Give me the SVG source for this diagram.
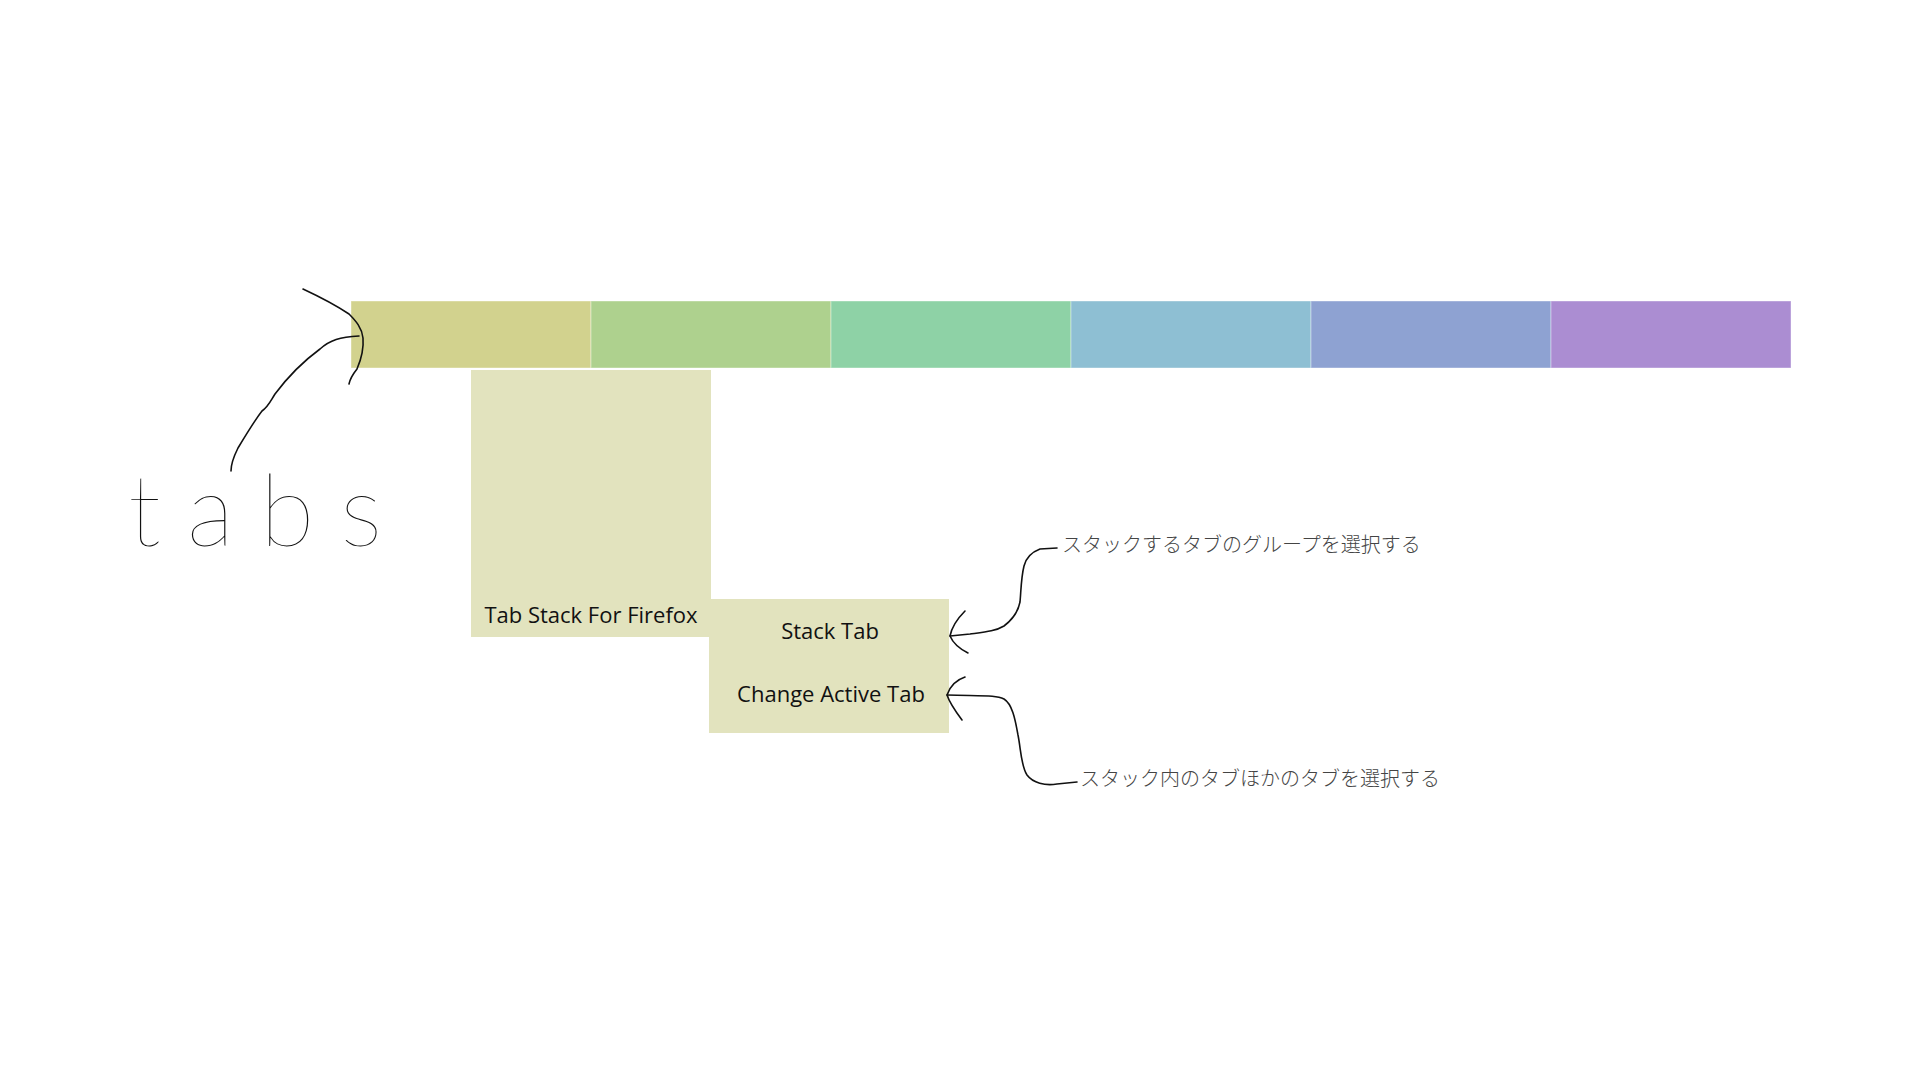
<svg xmlns="http://www.w3.org/2000/svg" width="1920" height="1080" viewBox="0 0 1920 1080">
  <style>
    .tab { stroke: rgba(255,255,255,0.4); stroke-width: 1; }
    .box { fill: #e2e3be; }
    .label { font-family: "Open Sans", "Liberation Sans", sans-serif; font-size: 22px; fill: #111; text-anchor: middle; }
    .note { font-family: "Noto Sans CJK JP", "Noto Sans", sans-serif; font-size: 20px; font-weight: 300; fill: #444; }
    .ink { fill: none; stroke: #111; stroke-width: 1.6; stroke-linecap: round; stroke-linejoin: round; }
  </style>
  <rect width="1920" height="1080" fill="#ffffff"/>

  <g id="tab-bar">
    <rect id="tab-1" class="tab" x="351" y="301" width="240" height="67" fill="#d2d28e"/>
    <rect id="tab-2" class="tab" x="591" y="301" width="240" height="67" fill="#aed18e"/>
    <rect id="tab-3" class="tab" x="831" y="301" width="240" height="67" fill="#8ed2a6"/>
    <rect id="tab-4" class="tab" x="1071" y="301" width="240" height="67" fill="#8ebfd3"/>
    <rect id="tab-5" class="tab" x="1311" y="301" width="240" height="67" fill="#8ea2d2"/>
    <rect id="tab-6" class="tab" x="1551" y="301" width="240" height="67" fill="#ab8dd2"/>
  </g>

  <g id="tab-stack">
    <rect class="box" x="471" y="370" width="240" height="267"/>
    <text class="label" x="591" y="623">Tab Stack For Firefox</text>
  </g>

  <g id="actions">
    <rect class="box" x="709" y="599" width="240" height="134"/>
    <text class="label" x="830" y="639">Stack Tab</text>
    <text class="label" x="831" y="702">Change Active Tab</text>
  </g>

  <g id="tabs-label">
    <text x="128" y="546" font-family="Lato, Roboto, 'Open Sans', sans-serif" font-size="100" font-weight="100" fill="#111" textLength="254" lengthAdjust="spacing">tabs</text>
  </g>

  <g id="note-stack">
    <text class="note" x="1062" y="552">スタックするタブのグループを選択する</text>
  </g>

  <g id="note-active">
    <text class="note" x="1080" y="786">スタック内のタブほかのタブを選択する</text>
  </g>

  <g id="connectors">
    <path class="ink" d="M303,289 C318,296 340,308 349,314 C356,321 362,328 363,338 C364,350 360,362 357,369 C353,374 350,379 349,384"/>
    <path class="ink" d="M359,336 C340,337 330,340 320,349 C305,360 290,374 275,394 C270,402 268,407 262,411 C255,420 247,433 238,448 C233,458 231,464 231,471"/>
    <path class="ink" d="M1057,548 L1040,549 C1032,552 1026,558 1024,566 C1021,578 1021,592 1020,602 C1018,612 1012,620 1004,626 C996,631 985,632 970,634 L950,636"/>
    <path class="ink" d="M965,611 C958,618 952,626 950,636 C953,643 960,649 968,653"/>
    <path class="ink" d="M1077,782 L1057,784 C1045,786 1033,783 1027,775 C1021,766 1021,750 1018,735 C1015,718 1012,704 1004,699 C996,695 985,696 947,695"/>
    <path class="ink" d="M965,677 C956,680 950,686 947,695 C950,704 956,712 962,720"/>
  </g>
</svg>
